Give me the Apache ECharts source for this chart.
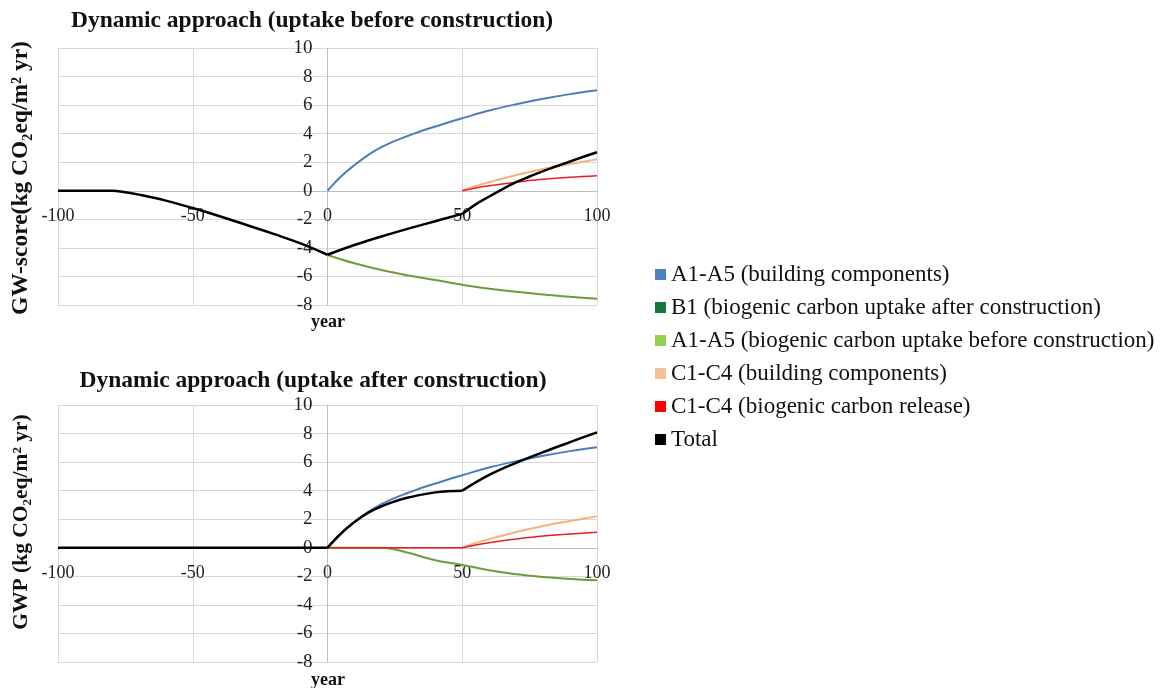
<!DOCTYPE html>
<html>
<head>
<meta charset="utf-8">
<script src="https://cdn.jsdelivr.net/npm/echarts@6/dist/echarts.min.js"></script>
<style>
html,body{margin:0;padding:0;background:#fff;}
#chart{width:1164px;height:688px;}
</style>
</head>
<body>
<div id="chart"></div>
<script>
// ---------- data ----------
const seriesNames = [
  'A1-A5 (building components)',
  'B1 (biogenic carbon uptake after construction)',
  'A1-A5 (biogenic carbon uptake before construction)',
  'C1-C4 (building components)',
  'C1-C4 (biogenic carbon release)',
  'Total'
];
const xTicks = [-100, -50, 0, 50, 100];
const yTicks = [-8, -6, -4, -2, 0, 2, 4, 6, 8, 10];

// building components A1-A5 (same in both charts)
const blueYears  = [0, 5, 10, 15, 20, 25, 30, 35, 40, 45, 50, 60, 70, 80, 90, 100];
const blueValues = [0, 1.0, 1.8, 2.5, 3.05, 3.5, 3.85, 4.2, 4.5, 4.8, 5.08, 5.62, 6.06, 6.44, 6.77, 7.04];

// C1-C4 building components (both charts)
const orangeYears  = [50, 55, 60, 70, 80, 90, 100];
const orangeValues = [0, 0.33, 0.6, 1.1, 1.53, 1.88, 2.2];

// C1-C4 biogenic carbon release
const redYearsTop  = [50, 55, 60, 70, 80, 90, 100];
const redValuesTop = [0, 0.2, 0.35, 0.6, 0.8, 0.95, 1.06];
const redYearsBottom  = [0, 50, 55, 60, 70, 80, 90, 100];
const redValuesBottom = [0, 0, 0.2, 0.36, 0.61, 0.82, 0.96, 1.08];

// top chart: A1-A5 biogenic carbon uptake before construction
const greenYearsTop  = [0, 10, 20, 30, 40, 50, 60, 70, 80, 90, 100];
const greenValuesTop = [-4.5, -5.08, -5.55, -5.93, -6.25, -6.58, -6.86, -7.07, -7.26, -7.42, -7.56];

// bottom chart: B1 biogenic carbon uptake after construction
const greenYearsBottom  = [0, 20, 25, 30, 40, 50, 60, 70, 80, 90, 100];
const greenValuesBottom = [0, 0, -0.12, -0.35, -0.87, -1.2, -1.57, -1.85, -2.04, -2.18, -2.27];

// totals
const totalYearsTop  = [-100, -90, -80, -75, -70, -60, -50, -40, -30, -20, -10, 0, 10, 20, 30, 40, 50, 55, 60, 65, 70, 75, 80, 85, 90, 95, 100];
const totalValuesTop = [0, 0, 0, -0.1, -0.27, -0.69, -1.21, -1.78, -2.4, -3.02, -3.68, -4.48, -3.8, -3.2, -2.65, -2.13, -1.62, -0.95, -0.4, 0.12, 0.6, 1.0, 1.38, 1.72, 2.05, 2.38, 2.7];
const totalYearsBottom  = [-100, -50, 0, 5, 10, 15, 20, 25, 30, 40, 50, 60, 70, 80, 90, 100];
const totalValuesBottom = [0, 0, 0, 1.0, 1.8, 2.45, 2.9, 3.25, 3.52, 3.88, 4.0, 5.1, 5.95, 6.7, 7.4, 8.08];
// years where the total line has a sharp corner
const totalBreaks = [0, 50];

// ---------- chart ----------
const pairs = (xs, ys) => xs.map((x, i) => [x, ys[i]]);
// split a line at break years so corners stay sharp (shared end points)
function segments(xs, ys, breaks) {
  const cuts = [xs[0]].concat(breaks.filter(b => b > xs[0] && b < xs[xs.length - 1]), [xs[xs.length - 1]]);
  const out = [];
  for (let k = 0; k < cuts.length - 1; k++) {
    out.push(pairs(xs, ys).filter(p => p[0] >= cuts[k] && p[0] <= cuts[k + 1]));
  }
  return out;
}
const lineColors = {blue: '#4a7ebb', green: '#6f9b3d', orange: '#f5b27c', red: '#e52127', black: '#000000'};
const legendColors = ['#4f81bd', '#16783a', '#92d050', '#f7c196', '#ff0000', '#000000'];
const serif = '"Liberation Serif", "Times New Roman", serif';
const GRID_W = 539, GRID_H = 257;

function xAxisFor(gi) {
  const xMin = xTicks[0], xMax = xTicks[xTicks.length - 1];
  const yMin = yTicks[0], yMax = yTicks[yTicks.length - 1];
  return {
    type: 'value', gridIndex: gi, min: xMin, max: xMax, interval: 50, position: 'bottom',
    // place the axis (line + labels) on y = 0
    offset: -GRID_H * (0 - yMin) / (yMax - yMin),
    axisLine: {show: true, onZero: false, lineStyle: {color: '#bfbfbf', width: 1}},
    axisTick: {show: false},
    axisLabel: {fontFamily: serif, fontSize: 18, color: '#222', margin: 16},
    splitLine: {show: true, lineStyle: {color: '#d9d9d9', width: 1}}
  };
}
function yAxisFor(gi) {
  const xMin = xTicks[0], xMax = xTicks[xTicks.length - 1];
  return {
    type: 'value', gridIndex: gi, min: yTicks[0], max: yTicks[yTicks.length - 1], interval: 2, position: 'left',
    // place the axis (line + labels) on x = 0
    offset: -GRID_W * (0 - xMin) / (xMax - xMin),
    axisLine: {show: true, onZero: false, lineStyle: {color: '#bfbfbf', width: 1}},
    axisTick: {show: false},
    axisLabel: {fontFamily: serif, fontSize: 19, color: '#222', margin: 15},
    splitLine: {show: true, lineStyle: {color: '#d9d9d9', width: 1}}
  };
}
function line(name, gi, data, color, width) {
  return {
    name: name, type: 'line', xAxisIndex: gi, yAxisIndex: gi, data: data,
    showSymbol: false, smooth: 0.4, itemStyle: {color: color},
    lineStyle: {color: color, width: width}, silent: true, animation: false
  };
}

const series = [
  line(seriesNames[0], 0, pairs(blueYears, blueValues), lineColors.blue, 2),
  line(seriesNames[2], 0, pairs(greenYearsTop, greenValuesTop), lineColors.green, 2),
  line(seriesNames[3], 0, pairs(orangeYears, orangeValues), lineColors.orange, 2),
  line(seriesNames[4], 0, pairs(redYearsTop, redValuesTop), lineColors.red, 1.5)
].concat(
  segments(totalYearsTop, totalValuesTop, totalBreaks).map(d => line(seriesNames[5], 0, d, lineColors.black, 2.5)),
  [
    line(seriesNames[0], 1, pairs(blueYears, blueValues), lineColors.blue, 2),
    line(seriesNames[1], 1, pairs(greenYearsBottom, greenValuesBottom), lineColors.green, 2),
    line(seriesNames[3], 1, pairs(orangeYears, orangeValues), lineColors.orange, 2)
  ],
  segments(redYearsBottom, redValuesBottom, [50]).map(d => line(seriesNames[4], 1, d, lineColors.red, 1.5)),
  segments(totalYearsBottom, totalValuesBottom, totalBreaks).map(d => line(seriesNames[5], 1, d, lineColors.black, 2.5))
);

const option = {
  animation: false,
  backgroundColor: '#ffffff',
  grid: [
    {left: 58, top: 48, width: GRID_W, height: GRID_H},
    {left: 58, top: 405, width: GRID_W, height: GRID_H}
  ],
  xAxis: [xAxisFor(0), xAxisFor(1)],
  yAxis: [yAxisFor(0), yAxisFor(1)],
  legend: {
    orient: 'vertical', left: 650, top: 258, itemWidth: 11, itemHeight: 11, itemGap: 10, itemTextGap: 6,
    icon: 'rect', selectedMode: false,
    textStyle: {fontFamily: serif, fontSize: 23, color: '#111', lineHeight: 23},
    data: seriesNames.map((n, i) => ({name: n, icon: 'rect', itemStyle: {color: legendColors[i]}}))
  },
  graphic: [
    {type: 'text', x: 312, y: 21, style: {text: 'Dynamic approach (uptake before construction)', font: 'bold 23.5px ' + serif, fill: '#111', align: 'center', verticalAlign: 'middle'}},
    {type: 'text', x: 313, y: 381, style: {text: 'Dynamic approach (uptake after construction)', font: 'bold 23.5px ' + serif, fill: '#111', align: 'center', verticalAlign: 'middle'}},
    {type: 'text', x: 21, y: 178, rotation: Math.PI / 2, style: {text: 'GW-score(kg CO\u2082eq/m\u00b2 yr)', font: 'bold 23.5px ' + serif, fill: '#111', align: 'center', verticalAlign: 'middle'}},
    {type: 'text', x: 21, y: 522, rotation: Math.PI / 2, style: {text: 'GWP (kg CO\u2082eq/m\u00b2 yr)', font: 'bold 21.5px ' + serif, fill: '#111', align: 'center', verticalAlign: 'middle'}},
    {type: 'text', x: 328, y: 322, style: {text: 'year', font: 'bold 18px ' + serif, fill: '#111', align: 'center', verticalAlign: 'middle'}},
    {type: 'text', x: 328, y: 680, style: {text: 'year', font: 'bold 18px ' + serif, fill: '#111', align: 'center', verticalAlign: 'middle'}}
  ],
  series: series
};
const chart = echarts.init(document.getElementById('chart'), null, {renderer: 'canvas'});
chart.setOption(option);
</script>
</body>
</html>
